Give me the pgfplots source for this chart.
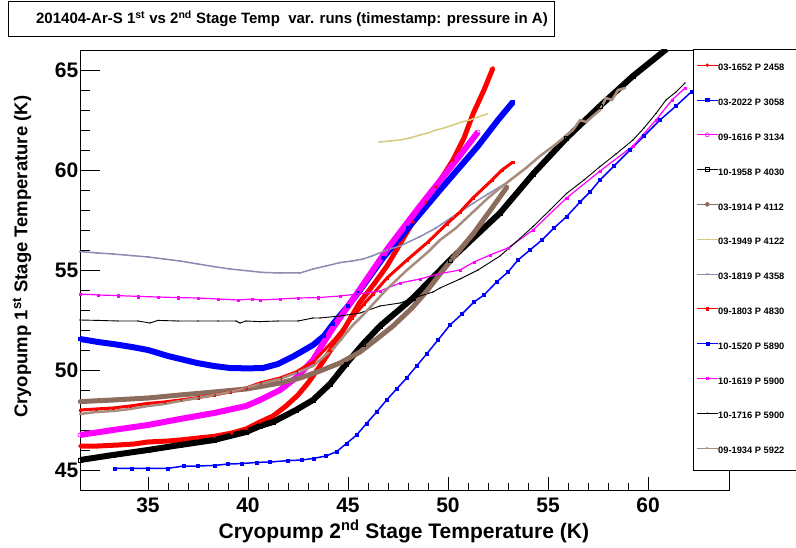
\documentclass[border=0pt]{standalone}
\usepackage{pgfplots}
\pgfplotsset{compat=1.18}
\usepackage{fontspec}
\setmainfont{Liberation Sans}
\definecolor{cbrown}{RGB}{140,108,92}
\definecolor{ctaupe}{RGB}{168,140,126}
\definecolor{ckhaki}{RGB}{214,204,128}
\definecolor{cgrayblue}{RGB}{140,140,178}
\definecolor{cmag}{RGB}{255,0,255}
\definecolor{cred}{RGB}{255,0,0}
\definecolor{cblue}{RGB}{0,0,255}
\begin{document}
\begin{tikzpicture}
\path[use as bounding box] (0pt,0pt) rectangle (796pt,-548pt);
\draw[line width=0.8pt] (8pt,-1pt) rectangle (554pt,-36pt);
\node[font=\fontsize{15}{15}\selectfont\bfseries] at (292pt,-18.5pt) {201404-Ar-S 1\textsuperscript{st} vs 2\textsuperscript{nd} Stage Temp\ \ var. runs (timestamp: pressure in A)};
\begin{axis}[
  at={(80pt,-490pt)}, anchor=south west,
  scale only axis, width=649pt, height=440pt,
  xmin=31.6, xmax=64.05, ymin=44, ymax=66,
  xtick={35,40,...,60}, ytick={45,50,...,65},
  minor x tick num=4, minor y tick num=4,
  tick pos=left, tick align=inside,
  major tick length=20pt, minor tick length=10pt,
  xtick style={/pgfplots/major tick length=13pt,/pgfplots/minor tick length=7pt},
  axis line style={line width=0.9pt},
  tick style={line width=0.9pt, black},
  /pgf/number format/assume math mode=true,
  ticklabel style={font=\fontsize{21}{21}\selectfont\bfseries},
  xticklabel style={inner sep=0pt, yshift=-8pt},
  yticklabel style={inner sep=1.5pt},
  xlabel={Cryopump 2\textsuperscript{nd} Stage Temperature (K)},
  ylabel={Cryopump 1\textsuperscript{st} Stage Temperature (K)},
  xlabel style={font=\fontsize{21}{21}\selectfont\bfseries, at={(rel axis cs:0.499,-0.094)}, anchor=center, inner sep=0pt},
  ylabel style={font=\fontsize{18.5}{18.5}\selectfont\bfseries, at={(rel axis cs:-0.0894,0.53)}, anchor=center, inner sep=0pt},
  clip=true,
  legend cell align=left,
  legend style={at={(0.9445,1.002)}, anchor=north west, draw=black, line width=0.8pt, fill=white,
    inner xsep=3pt, inner ysep=1.5pt, row sep=0pt,
    font=\fontsize{9.3}{9.3}\selectfont\bfseries,
    nodes={minimum height=34.8pt, inner sep=0pt},
    /tikz/every even column/.append style={column sep=4pt}},
  legend image code/.code={
    \draw[#1, line width=0.8pt, mark=none] (0pt,3.3pt) -- (21pt,3.3pt);
    \draw[#1, line width=0.5pt] plot[only marks] coordinates {(10.5pt,3.3pt)};
  },
]
% 03-1652 P 2458
\addplot[cred, line width=5pt, mark=*, mark size=1.5pt, mark options={line width=0.4pt}] coordinates {
(31.6,46.2)(32.5,46.2)(33.5,46.25)(34.3,46.3)(35.0,46.4)(36.0,46.45)(36.6,46.5)(37.5,46.6)(38.3,46.68)(39.2,46.85)(39.9,47.05)(40.6,47.4)(41.25,47.7)(41.9,48.2)(42.5,48.75)(43.0,49.35)(43.6,50.2)(44.1,50.95)(44.6,51.7)(45.1,52.55)(45.6,53.4)(46.3,54.3)(46.95,55.2)(47.6,56.3)(48.25,57.4)(48.9,58.4)(49.4,59.15)(50.25,60.5)(50.8,61.6)(51.25,62.8)(51.8,64.0)(52.25,65.1)};
\addlegendentry{\makebox[84pt][l]{03-1652 P 2458}}
% 03-2022 P 3058
\addplot[cblue, line width=6pt, mark=square*, mark size=1.6pt, mark options={line width=0.4pt}] coordinates {
(31.6,51.55)(32.5,51.4)(33.25,51.3)(34.2,51.15)(35.0,51.0)(36.0,50.7)(37.45,50.35)(38.3,50.2)(39.1,50.1)(40.0,50.08)(40.75,50.1)(41.5,50.3)(42.3,50.7)(43.25,51.25)(43.8,51.7)(44.25,52.3)(45.0,53.2)(45.5,53.85)(46.75,55.6)(48.0,57.1)(49.6,59.0)(51.5,61.2)(52.5,62.5)(53.25,63.4)};
\addlegendentry{03-2022 P 3058}
% 09-1616 P 3134
\addplot[cmag, line width=6pt, mark=o, mark size=2pt, mark options={line width=0.6pt}] coordinates {
(31.6,46.75)(33.25,47.0)(35.0,47.25)(36.6,47.55)(38.3,47.85)(39.9,48.2)(40.6,48.5)(41.6,49.0)(42.45,49.65)(43.25,50.5)(43.8,51.4)(44.25,52.1)(44.8,52.9)(45.5,53.9)(47.0,56.1)(48.6,58.2)(50.5,60.6)(51.5,61.9)};
\addlegendentry{09-1616 P 3134}
% 10-1958 P 4030
\addplot[black, line width=6pt, mark=square, mark size=2pt, mark options={line width=0.6pt}] coordinates {
(31.6,45.5)(33.25,45.75)(35.0,46.0)(36.6,46.25)(38.3,46.5)(39.9,46.9)(40.6,47.2)(41.25,47.4)(42.4,48.0)(43.25,48.5)(44.1,49.3)(44.9,50.3)(45.75,51.3)(46.6,52.2)(48.25,53.6)(50.1,55.5)(52.6,57.85)(54.25,59.8)(55.93,61.6)(57.6,63.2)(59.25,64.7)(60.93,66.05)};
\addlegendentry{10-1958 P 4030}
% 03-1914 P 4112
\addplot[cbrown, line width=5pt, mark=*, mark size=2pt, mark options={line width=0.4pt}] coordinates {
(31.6,48.42)(33.25,48.5)(35.0,48.6)(36.6,48.75)(38.3,48.9)(39.9,49.05)(40.6,49.17)(41.6,49.35)(42.6,49.6)(43.6,49.95)(44.6,50.35)(45.6,50.9)(46.5,51.6)(47.25,52.2)(48.2,53.1)(48.9,53.9)(49.6,54.8)(50.25,55.6)(51.25,56.8)(52.2,58.1)(52.95,59.15)};
\addlegendentry{03-1914 P 4112}
% 03-1949 P 4122
\addplot[ckhaki, line width=1.5pt, mark=*, mark size=0.6pt, mark options={line width=0.3pt}] coordinates {
(46.55,61.4)(47.1,61.45)(47.6,61.5)(48.1,61.6)(48.6,61.75)(49.0,61.85)(49.4,62.0)(49.8,62.1)(50.25,62.25)(50.7,62.4)(51.1,62.5)(51.5,62.65)(51.95,62.8)};
\addlegendentry{03-1949 P 4122}
% 03-1819 P 4358
\addplot[cgrayblue, line width=1.5pt, mark=*, mark size=0.8pt, mark options={line width=0.3pt}] coordinates {
(31.6,55.92)(32.5,55.85)(33.25,55.8)(34.2,55.72)(35.0,55.65)(35.8,55.55)(36.6,55.45)(37.5,55.3)(38.3,55.17)(39.1,55.05)(39.9,54.97)(40.7,54.88)(41.6,54.85)(42.6,54.85)(43.25,55.05)(43.9,55.2)(44.6,55.37)(45.2,55.45)(45.75,55.55)(46.2,55.7)(46.95,56.0)(47.6,56.2)(48.6,56.67)(49.4,57.1)(50.25,57.67)(51.25,58.33)(52.0,58.8)(52.75,59.25)};
\addlegendentry{03-1819 P 4358}
% 09-1803 P 4830
\addplot[cred, line width=3pt, mark=square*, mark size=1.2pt, mark options={line width=0.3pt}] coordinates {
(31.6,48.0)(32.4,48.05)(33.25,48.1)(34.1,48.2)(35.0,48.33)(35.8,48.4)(36.6,48.5)(37.5,48.62)(38.3,48.75)(39.1,48.9)(39.9,49.1)(40.6,49.35)(41.6,49.6)(42.4,49.9)(43.25,50.4)(44.3,51.5)(45.2,52.6)(45.8,53.3)(46.25,53.8)(46.95,54.6)(47.95,55.5)(49.0,56.4)(49.93,57.3)(50.6,57.9)(51.25,58.6)(52.2,59.5)(52.7,60.0)(53.25,60.4)};
\addlegendentry{09-1803 P 4830}
% 10-1520 P 5890
\addplot[cblue, line width=1.5pt, mark=square*, mark size=1.4pt, mark options={line width=0.3pt}] coordinates {
(33.35,45.08)(34.2,45.08)(35.0,45.08)(36.0,45.08)(36.77,45.2)(37.5,45.2)(38.35,45.23)(39.0,45.3)(39.7,45.32)(40.43,45.38)(41.1,45.4)(42.0,45.47)(42.7,45.5)(43.27,45.58)(43.9,45.7)(44.43,45.92)(44.93,46.33)(45.43,46.75)(45.93,47.33)(46.43,47.9)(46.93,48.5)(47.43,49.05)(47.93,49.6)(48.43,50.2)(48.93,50.8)(49.5,51.5)(50.1,52.25)(50.7,52.8)(51.3,53.4)(51.8,53.75)(52.43,54.4)(53.0,54.9)(53.5,55.5)(54.1,56.0)(54.7,56.5)(55.3,57.1)(55.93,57.67)(56.6,58.4)(57.1,58.9)(57.6,59.5)(58.3,60.2)(59.1,61.0)(59.8,61.7)(60.6,62.5)(61.4,63.2)(62.18,63.92)};
\addlegendentry{10-1520 P 5890}
% 10-1619 P 5900
\addplot[cmag, line width=1.2pt, mark=square*, mark size=1.3pt, mark options={line width=0.3pt}] coordinates {
(31.6,53.8)(32.5,53.75)(33.5,53.72)(34.5,53.68)(35.5,53.65)(36.5,53.62)(37.5,53.6)(38.5,53.55)(39.5,53.5)(40.2,53.55)(40.6,53.5)(41.6,53.55)(42.5,53.6)(43.5,53.62)(44.6,53.7)(45.5,53.8)(46.6,53.95)(47.6,54.35)(48.6,54.55)(49.5,54.8)(50.6,55.0)(51.3,55.4)(52.1,55.75)(53.0,56.1)(54.25,57.0)(55.93,58.6)(57.6,59.95)(59.25,61.2)(60.4,62.5)(61.2,63.5)(61.85,64.1)};
\addlegendentry{10-1619 P 5900}
% 10-1716 P 5900
\addplot[black, line width=0.9pt, mark=*, mark size=0.5pt, mark options={line width=0.3pt}] coordinates {
(31.6,52.5)(32.5,52.48)(33.5,52.45)(34.5,52.45)(35.1,52.35)(35.5,52.48)(36.5,52.45)(37.5,52.45)(38.5,52.45)(39.4,52.45)(39.6,52.35)(39.9,52.45)(40.6,52.42)(41.5,52.45)(42.5,52.45)(43.25,52.6)(43.6,52.6)(44.6,52.7)(45.6,52.85)(46.6,53.2)(47.6,53.35)(48.6,53.7)(49.25,53.9)(49.6,54.1)(50.6,54.55)(51.5,55.0)(52.6,55.7)(53.4,56.4)(54.25,57.17)(55.1,58.0)(55.93,58.83)(56.8,59.5)(57.6,60.17)(58.4,60.8)(59.25,61.5)(59.8,62.1)(60.4,62.83)(60.9,63.5)(61.4,63.9)(61.85,64.35)};
\addlegendentry{10-1716 P 5900}
% 09-1934 P 5922
\addplot[ctaupe, line width=2.5pt, mark=*, mark size=0.8pt, mark options={line width=0.3pt}] coordinates {
(31.6,47.8)(32.4,47.9)(33.25,47.95)(34.1,48.05)(35.0,48.2)(35.8,48.3)(36.6,48.45)(37.5,48.6)(38.3,48.75)(39.1,48.9)(39.9,49.1)(40.6,49.3)(41.6,49.55)(42.4,49.85)(43.25,50.2)(44.3,51.1)(45.2,52.2)(45.8,52.8)(46.9,54.0)(47.95,55.0)(49.0,55.9)(49.6,56.5)(50.4,57.1)(51.25,57.9)(52.0,58.6)(52.6,59.1)(53.25,59.6)(53.9,60.1)(54.6,60.7)(55.4,61.3)(56.25,62.0)(56.6,62.5)(56.9,62.4)(57.6,63.0)(57.9,63.6)(58.2,63.5)(58.5,64.0)(58.85,64.1)};
\addlegendentry{09-1934 P 5922}
\end{axis}
\end{tikzpicture}
\end{document}
